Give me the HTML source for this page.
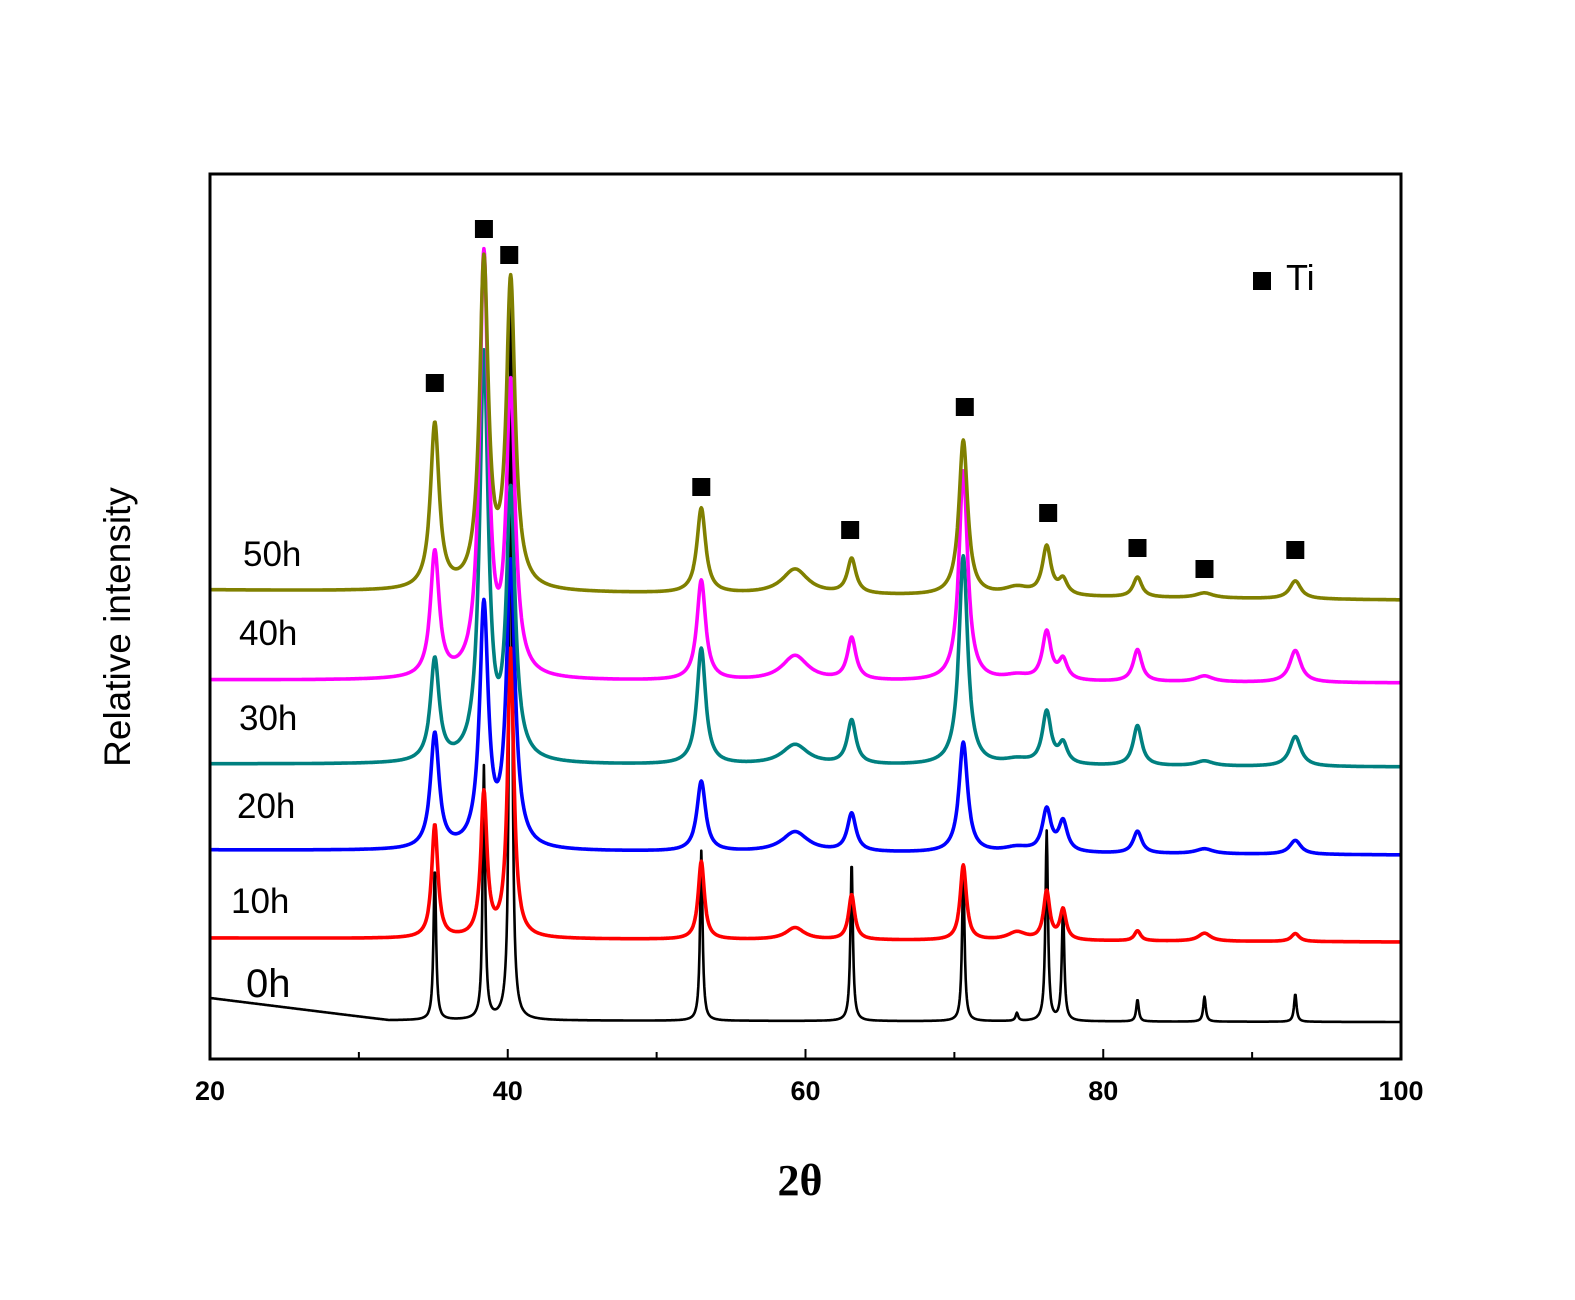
<!DOCTYPE html>
<html><head><meta charset="utf-8"><style>
html,body{margin:0;padding:0;background:#fff;}
svg{display:block;}
</style></head><body>
<svg id="chart" width="1575" height="1300" viewBox="0 0 1575 1300" xmlns="http://www.w3.org/2000/svg">
<rect x="0" y="0" width="1575" height="1300" fill="#fff"/>
<g id="series"></g>
<g id="markers"></g>
<rect x="210" y="174" width="1191" height="885" fill="none" stroke="#000" stroke-width="3"/>
<g id="xaxis" font-family="Liberation Sans, sans-serif" font-weight="bold" font-size="27" text-anchor="middle"></g>
<text x="800" y="1195" font-family="Liberation Serif, serif" font-weight="bold" font-size="44" text-anchor="middle">2θ</text>
<text transform="translate(130,627) rotate(-90)" font-family="Liberation Sans, sans-serif" font-size="37" text-anchor="middle">Relative intensity</text>
<rect x="1253" y="272" width="18" height="18" fill="#000"/>
<text x="1286" y="290" font-family="Liberation Sans, sans-serif" font-size="36">Ti</text>
<g id="labels" font-family="Liberation Sans, sans-serif" font-size="35"></g>
</svg>
<script>
const NS='http://www.w3.org/2000/svg';
const peakPositions=[35.1,38.4,40.2,53.0,59.3,63.1,70.6,74.2,76.2,77.3,82.3,86.8,92.9];
const peakBroadening=[1,1,1,1,3,1,1,3,1,1,1,2,1.3];
const seriesNames=['0h','10h','20h','30h','40h','50h'];
const seriesColors=['#000000','#ff0000','#0000ff','#008080','#ff00ff','#808000'];
const baseStart=[39,121,209,295,379,469];
const baseEnd=[37,117,204,292,376,459];
const peakWidths=[0.1,0.25,0.35,0.35,0.35,0.35];
const h0=[153,253,735,170,0,160,150,8,190,115,22,25,28];
const h10=[113,143,288,78,12,45,75,8,48,30,10,8,8];
const h20=[115,240,283,70,20,38,110,5,42,30,22,5,14];
const h30=[102,404,264,116,20,44,209,5,52,20,40,5,30];
const h40=[125,420,287,100,25,42,210,5,48,20,32,6,32];
const h50=[165,325,305,85,25,35,155,8,48,15,20,5,18];
const heights=[h0,h10,h20,h30,h40,h50];
const markerX=[35.1,38.4,40.1,53.0,63.0,70.7,76.3,82.3,86.8,92.9];
const markerY=[676,830,804,572,529,652,546,511,490,509];
const xTicks=[20,40,60,80,100];
const minorTicks=[30,50,70,90];
const seriesLabels=['0h','10h','20h','30h','40h','50h'];
const labelX=[246,231,237,239,239,243];
const labelY=[997,913,818,730,645,566];

const X0=20,X1=100,PX0=210,PX1=1401,PY0=1059,PY1=174,YMAX=885;
const sx=v=>PX0+(v-X0)/(X1-X0)*(PX1-PX0);
const sy=v=>PY0-v/YMAX*(PY0-PY1);

const gS=document.getElementById('series');
for(let s=0;s<seriesNames.length;s++){
  let d='';
  for(let t=20;t<=100.0001;t+=0.04){
    let v=baseStart[s]+(baseEnd[s]-baseStart[s])*(t-20)/80;
    if(s===0&&t<32) v+=22*(32-t)/12;
    for(let k=0;k<peakPositions.length;k++){
      const w=peakWidths[s]*(s===0?1:peakBroadening[k]);
      const dx=(t-peakPositions[k])/w;
      v+=heights[s][k]/(1+dx*dx);
    }
    d+=(d?'L':'M')+sx(t).toFixed(1)+','+sy(v).toFixed(1);
  }
  const p=document.createElementNS(NS,'path');
  p.setAttribute('d',d);
  p.setAttribute('fill','none');
  p.setAttribute('stroke',seriesColors[s]);
  p.setAttribute('stroke-width',s===0?'2.6':'3.6');
  p.setAttribute('stroke-linejoin','round');
  
  
  gS.appendChild(p);
}
const gM=document.getElementById('markers');
for(let i=0;i<markerX.length;i++){
  const r=document.createElementNS(NS,'rect');
  r.setAttribute('x',sx(markerX[i])-9);
  r.setAttribute('y',sy(markerY[i])-9);
  r.setAttribute('width',18);r.setAttribute('height',18);
  r.setAttribute('fill','#000');
  
  
  gM.appendChild(r);
}
const gX=document.getElementById('xaxis');
for(const t of xTicks){
  const l=document.createElementNS(NS,'line');
  l.setAttribute('x1',sx(t));l.setAttribute('x2',sx(t));
  l.setAttribute('y1',PY0);l.setAttribute('y2',PY0-10);
  l.setAttribute('stroke','#000');l.setAttribute('stroke-width','2');
  
  
  gX.appendChild(l);
  const tx=document.createElementNS(NS,'text');
  tx.setAttribute('x',sx(t));tx.setAttribute('y',1100);
  tx.textContent=t;
  
  
  gX.appendChild(tx);
}
for(const t of minorTicks){
  const l=document.createElementNS(NS,'line');
  l.setAttribute('x1',sx(t));l.setAttribute('x2',sx(t));
  l.setAttribute('y1',PY0);l.setAttribute('y2',PY0-7);
  l.setAttribute('stroke','#000');l.setAttribute('stroke-width','2');
  
  
  gX.appendChild(l);
}
const gL=document.getElementById('labels');
for(let i=0;i<seriesLabels.length;i++){
  const tx=document.createElementNS(NS,'text');
  tx.setAttribute('x',labelX[i]);tx.setAttribute('y',labelY[i]);
  if(i===0) tx.setAttribute('font-size','40');
  tx.textContent=seriesLabels[i];
  
  
  gL.appendChild(tx);
}
</script>
</body></html>
